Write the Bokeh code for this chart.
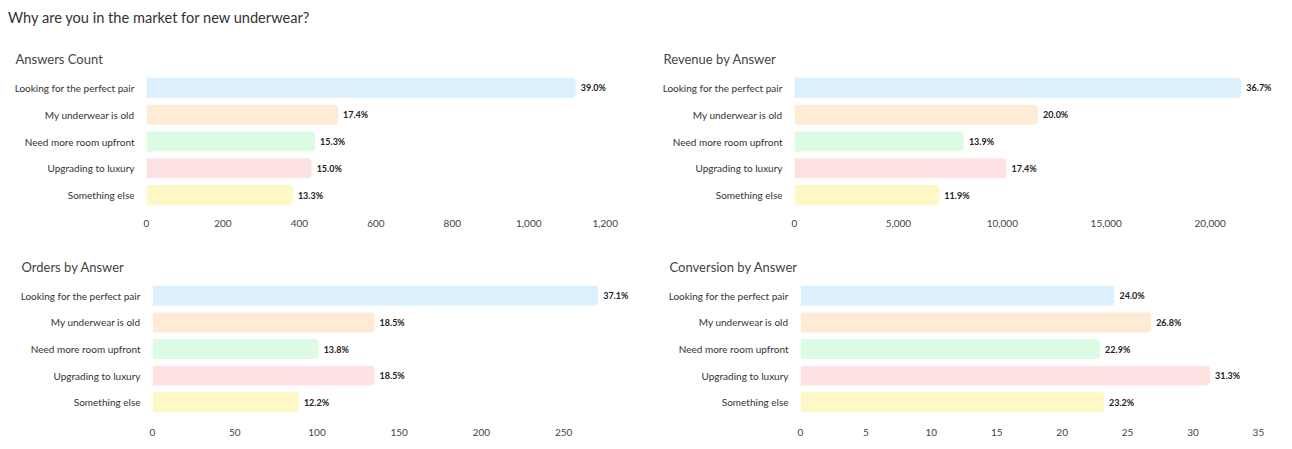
from bokeh.plotting import figure
from bokeh.models import FactorRange, Range1d, FixedTicker, NumeralTickFormatter, ColumnDataSource, Div
from bokeh.layouts import column, row
from bokeh.embed import file_html
from bokeh.resources import INLINE
from bokeh.core.properties import value

FONT = "Lato"

main_title = "Why are you in the market for new underwear?"
categories = ["Looking for the perfect pair", "My underwear is old", "Need more room upfront",
              "Upgrading to luxury", "Something else"]
bar_colors = ["#DDF0FD", "#FEEBD5", "#DCFAE4", "#FEE1E1", "#FEF7C6"]

answers_count = [1123, 501, 441, 432, 383]
answers_pct = ["39.0%", "17.4%", "15.3%", "15.0%", "13.3%"]
answers_ticks = [0, 200, 400, 600, 800, 1000, 1200]

revenue = [21500, 11720, 8150, 10200, 6970]
revenue_pct = ["36.7%", "20.0%", "13.9%", "17.4%", "11.9%"]
revenue_ticks = [0, 5000, 10000, 15000, 20000]

orders = [271, 135, 101, 135, 89]
orders_pct = ["37.1%", "18.5%", "13.8%", "18.5%", "12.2%"]
orders_ticks = [0, 50, 100, 150, 200, 250]

conversion = [24.0, 26.8, 22.9, 31.3, 23.2]
conversion_pct = ["24.0%", "26.8%", "22.9%", "31.3%", "23.2%"]
conversion_ticks = [0, 5, 10, 15, 20, 25, 30, 35]


def panel(title, vals, pcts, ticks, xmax, width, height, bl, br, bt, bb, title_offset, xstandoff):
    src = ColumnDataSource(dict(cat=categories, val=vals, pct=pcts, color=bar_colors))
    p = figure(width=width, height=height, output_backend="svg", toolbar_location=None,
               y_range=FactorRange(factors=list(reversed(categories))),
               x_range=Range1d(0, xmax),
               min_border_left=bl, min_border_right=br, min_border_top=bt, min_border_bottom=bb,
               title=title)
    p.title.text_font = FONT
    p.title.text_font_size = "13px"
    p.title.text_font_style = "normal"
    p.title.text_color = "#444444"
    p.title.align = "left"
    p.title.offset = title_offset
    p.title.standoff = 15
    p.hbar(y="cat", right="val", left=0, height=0.75, source=src, fill_color="color",
           line_color=None, border_radius=(0, 4, 4, 0))
    p.text(x="val", y="cat", text="pct", source=src, x_offset=5, text_baseline="middle",
           text_align="left", text_font=value(FONT), text_font_size="9px",
           text_font_style="bold", text_color="#222222")
    p.outline_line_color = None
    p.xgrid.visible = False
    p.ygrid.visible = False
    for ax in (p.xaxis[0], p.yaxis[0]):
        ax.axis_line_color = None
        ax.major_tick_line_color = None
        ax.minor_tick_line_color = None
        ax.major_tick_out = 0
        ax.major_tick_in = 0
        ax.major_label_text_font = FONT
    p.yaxis.major_label_text_font_size = "10px"
    p.yaxis.major_label_text_color = "#333333"
    p.yaxis.major_label_standoff = 12
    p.xaxis.major_label_text_font_size = "10px"
    p.xaxis.major_label_text_color = "#444444"
    p.xaxis.major_label_standoff = xstandoff
    p.xaxis.ticker = FixedTicker(ticks=ticks)
    p.xaxis.formatter = NumeralTickFormatter(format="0,0")
    return p


f1 = panel("Answers Count", answers_count, answers_pct, answers_ticks, 1240,
           650, 208, 146, 30, 36, 38, -131, 11)
f2 = panel("Revenue by Answer", revenue, revenue_pct, revenue_ticks, 23000,
           634, 208, 144, 12, 36, 38, -131, 11)
f3 = panel("Orders by Answer", orders, orders_pct, orders_ticks, 290,
           650, 195, 152, 21, 36, 26, -131, 13)
f4 = panel("Conversion by Answer", conversion, conversion_pct, conversion_ticks, 36,
           634, 195, 150, 13, 36, 26, -131, 13)

head = Div(text=main_title, width=1276, height=30, margin=(8, 0, 0, 8),
           styles={"font-family": FONT, "font-size": "14.6px", "color": "#333333",
                   "line-height": "20px"})

layout = column(head, row(f1, f2), row(f3, f4))
open("out.html", "w").write(file_html(layout, INLINE))
